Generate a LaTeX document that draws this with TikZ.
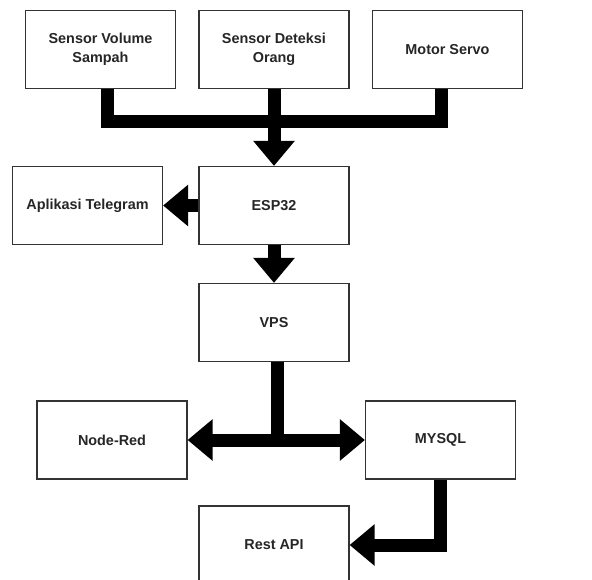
\documentclass[tikz,border=0pt]{standalone}
\usepackage{fontspec}
\setmainfont{Liberation Sans}
\usetikzlibrary{arrows.meta}
\begin{document}
\begin{tikzpicture}[x=1pt,y=-1pt,
  blok/.style={draw=black!80, line width=1.2pt, fill=white, minimum width=150pt, minimum height=78pt, inner sep=0pt, align=center, font=\fontsize{14.4}{19}\selectfont\bfseries, text=black!85},
  bus/.style={line width=13pt, line join=miter},
  panah/.style={bus, -{Triangle[length=25pt,width=40pt]}}]
\useasboundingbox (0,0) rectangle (592,580);
\node[blok] (sv) at (100.5,49.5){Sensor Volume\\Sampah};
\node[blok] (sd) at (274,49.5){Sensor Deteksi\\Orang};
\node[blok] (ms) at (447.5,49.5){Motor Servo};
\node[blok] (tel) at (87.5,205.5){Aplikasi Telegram};
\node[blok] (esp) at (274,205.5){ESP32};
\node[blok] (vps) at (274,322.5){VPS};
\node[blok] (nr) at (112,440){Node-Red};
\node[blok] (my) at (440.5,440){MYSQL};
\node[blok] (rest) at (274,545){Rest API};
\coordinate (j) at (274,121.5);
\coordinate (k) at (277,440);
\draw[bus] ([xshift=6.5pt]sv.south) |- (j);
\draw[bus] ([xshift=-6.5pt]ms.south) |- (j);
\draw[panah] (sd.south) -- (esp.north);
\draw[panah] (esp.west) -- (tel.east);
\draw[panah] (esp.south) -- (vps.north);
\draw[bus] ([xshift=3pt]vps.south) -- (k);
\draw[panah] (k) -- (nr.east);
\draw[panah] (k) -- (my.west);
\draw[panah] (my.south) |- (rest.east);
\end{tikzpicture}
\end{document}
